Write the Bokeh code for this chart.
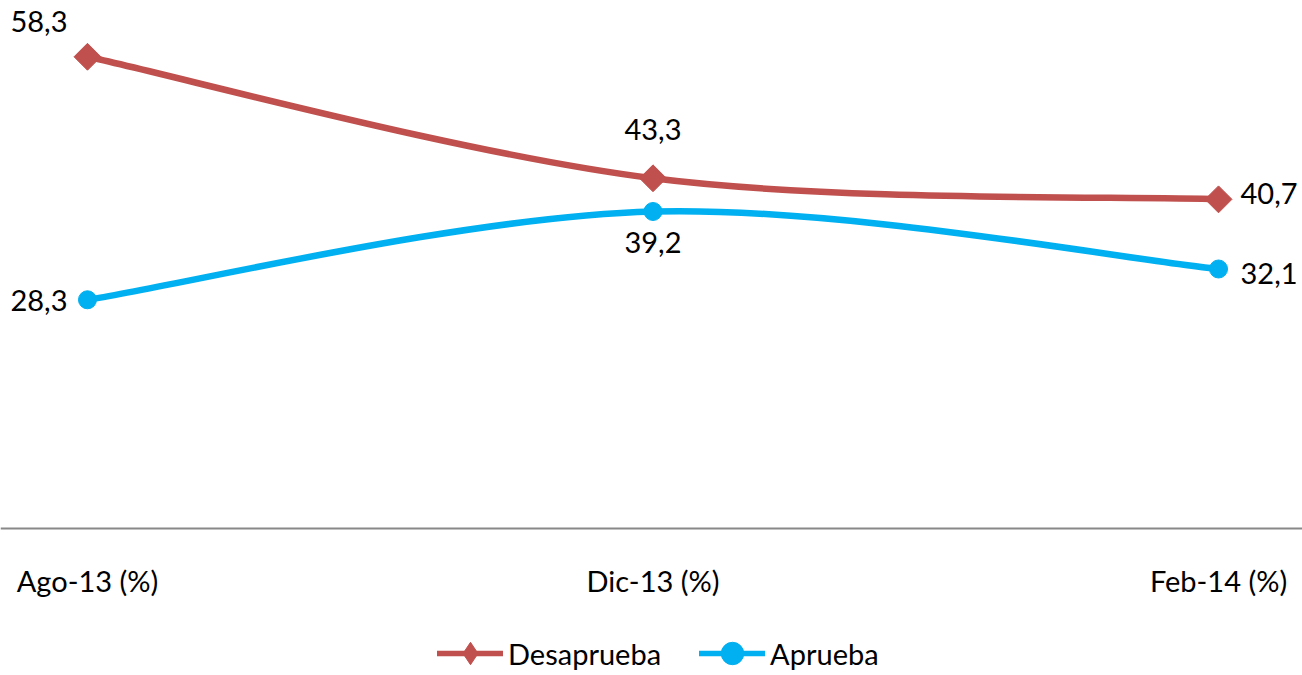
import math
from bokeh.plotting import figure
from bokeh.models import ColumnDataSource, Legend, LegendItem, FixedTicker, Range1d
from bokeh.core.properties import value
from bokeh.embed import file_html
from bokeh.resources import INLINE

# ---- data ----
categories = ["Ago-13 (%)", "Dic-13 (%)", "Feb-14 (%)"]
desaprueba = [58.3, 43.3, 40.7]
aprueba = [28.3, 39.2, 32.1]
series_names = ["Desaprueba", "Aprueba"]

# ---- style ----
RED = "#C0504D"
BLUE = "#00B0F0"
AXIS = "#888888"
FONT = "Lato"
FS = "29px"

W, H = 1302, 675
xs = list(range(len(categories)))

p = figure(width=W, height=H, output_backend="svg", toolbar_location=None,
           x_range=Range1d(-0.1538, 2.1485), y_range=Range1d(-18.09, 65.25),
           min_border_left=0, min_border_right=0, min_border_top=0, min_border_bottom=0,
           outline_line_color=None, background_fill_color="white", border_fill_color="white")
p.grid.visible = False
p.yaxis.visible = False

ax = p.xaxis[0]
ax.fixed_location = 0
ax.ticker = FixedTicker(ticks=xs)
ax.major_label_overrides = {i: c for i, c in enumerate(categories)}
ax.major_tick_line_color = None
ax.minor_tick_line_color = None
ax.axis_line_color = AXIS
ax.axis_line_width = 2
ax.major_label_standoff = 28
ax.major_label_text_font = FONT
ax.major_label_text_font_size = FS
ax.major_label_text_color = "black"


def smooth_segments(xv, yv):
    """Catmull-Rom style bezier control points (Excel 'smoothed line')."""
    n = len(xv)
    seg = dict(x0=[], y0=[], x1=[], y1=[], cx0=[], cy0=[], cx1=[], cy1=[])
    for i in range(n - 1):
        a = i - 1 if i > 0 else i
        d = i + 2 if i + 2 < n else i + 1
        seg["x0"].append(xv[i]); seg["y0"].append(yv[i])
        seg["x1"].append(xv[i + 1]); seg["y1"].append(yv[i + 1])
        seg["cx0"].append(xv[i] + (xv[i + 1] - xv[a]) / 6)
        seg["cy0"].append(yv[i] + (yv[i + 1] - yv[a]) / 6)
        seg["cx1"].append(xv[i + 1] - (xv[d] - xv[i]) / 6)
        seg["cy1"].append(yv[i + 1] - (yv[d] - yv[i]) / 6)
    return ColumnDataSource(seg)


series = [
    (desaprueba, RED, "square", math.pi / 4, 19, "diamond", 23,
     [-20, 0, 22], [-35, -49, -6], ["right", "center", "left"]),
    (aprueba, BLUE, "circle", 0, 18, "circle", 17,
     [-20, 0, 22], [1, 31, 5], ["right", "center", "left"]),
]

NAN = float("nan")
items = []
for (vals, col, mk, ang, sz, lmk, lsz, xo, yo, al), name in zip(series, series_names):
    p.bezier(x0="x0", y0="y0", x1="x1", y1="y1", cx0="cx0", cy0="cy0",
             cx1="cx1", cy1="cy1", source=smooth_segments(xs, vals),
             line_color=col, line_width=6.5, line_cap="round")
    p.scatter(xs, vals, marker=mk, angle=ang, size=sz, fill_color=col, line_color=col)
    lsrc = ColumnDataSource(dict(x=xs, y=vals,
                                 t=[f"{v:.1f}".replace(".", ",") for v in vals],
                                 xo=xo, yo=yo, al=al))
    p.text(x="x", y="y", text="t", x_offset="xo", y_offset="yo", text_align="al",
           text_baseline="middle", text_font=value(FONT), text_font_size=FS,
           text_color="black", source=lsrc)
    # legend-only renderers (one undrawn NaN row)
    lr = p.line(x=[NAN], y=[NAN], line_color=col, line_width=5.5, line_cap="round")
    mr = p.scatter(x=[NAN], y=[NAN], marker=lmk, size=lsz,
                   fill_color=col, line_color=col, line_width=1)
    items.append(LegendItem(label=name, renderers=[lr, mr]))

legend = Legend(items=items, orientation="horizontal", location=(437, -6),
                glyph_width=66, glyph_height=56, label_height=56,
                label_standoff=5, spacing=38, padding=0, margin=0,
                label_text_font=FONT, label_text_font_size=FS,
                label_text_color="black",
                border_line_color=None, background_fill_alpha=0)
p.add_layout(legend)

open("out.html", "w").write(file_html(p, INLINE))
